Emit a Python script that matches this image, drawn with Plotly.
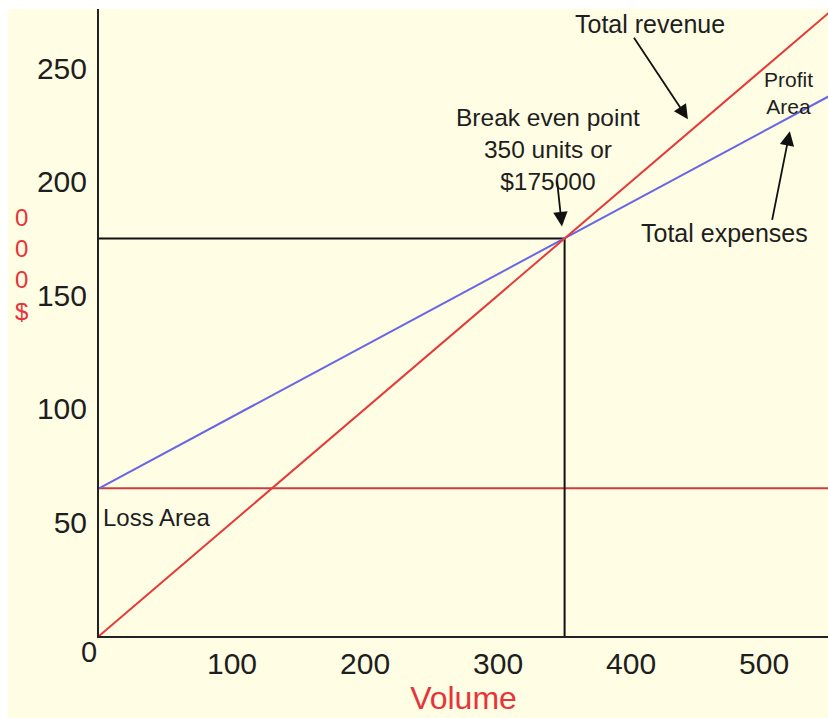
import plotly.graph_objects as go

# Break-even chart data (volume in units, money in $000)
volume_pts = [0, 350, 550]
revenue_pts = [0, 175, 275]
expense_pts = [65, 175, 238]
fixed_volume = [0, 550]
fixed_cost = [65, 65]
break_even_volume = 350
break_even_value = 175

x_ticks = [100, 200, 300, 400, 500]
y_ticks = [50, 100, 150, 200, 250]

CREAM = "#FFFDE3"
FONT = "Liberation Sans, Arial, sans-serif"
INK = "#1e1e1e"

fig = go.Figure()

# Fixed costs
fig.add_trace(go.Scatter(x=fixed_volume, y=fixed_cost, mode="lines",
                         line=dict(color="#C8403F", width=2), hoverinfo="skip"))
# Break-even guide lines
fig.add_trace(go.Scatter(x=[0, break_even_volume, break_even_volume],
                         y=[break_even_value, break_even_value, 0], mode="lines",
                         line=dict(color="#111111", width=2), hoverinfo="skip"))
# Total expenses
fig.add_trace(go.Scatter(x=volume_pts, y=expense_pts, mode="lines",
                         line=dict(color="#6767E6", width=2), hoverinfo="skip"))
# Total revenue
fig.add_trace(go.Scatter(x=volume_pts, y=revenue_pts, mode="lines",
                         line=dict(color="#E43A3A", width=2), hoverinfo="skip"))

text_font = dict(family=FONT, size=25, color=INK)
annotations = [
    dict(x=414, y=269.5, text="Total revenue", showarrow=False, font=text_font),
    dict(x=337.5, y=214, text="Break even point<br>350 units or<br>$175000",
         showarrow=False, font=dict(family=FONT, size=24.5, color=INK), align="center"),
    dict(x=518, y=239, text="Profit<br>Area", showarrow=False,
         font=dict(family=FONT, size=21, color=INK), align="center"),
    dict(x=470.5, y=177.5, text="Total expenses", showarrow=False, font=text_font),
    dict(x=1.5, y=52, text="Loss Area", showarrow=False, xanchor="left",
         font=dict(family=FONT, size=24, color=INK)),
    # origin label
    dict(x=0, y=0, text="0", showarrow=False, xanchor="right", yanchor="top",
         xshift=0, yshift=2, font=dict(family=FONT, size=29, color=INK)),
    # stacked y title
    dict(xref="paper", yref="paper", x=-0.118, y=0.593, text="0<br>0<br>0<br>$",
         showarrow=False, align="center",
         font=dict(family=FONT, size=24, color="#E8333A")),
]
# arrows (tail -> head in data coordinates)
arrows = [
    ((401.4, 264.0), (442.7, 227.5)),
    ((344.2, 201.0), (348.0, 180.3)),
    ((505.8, 182.5), (519.3, 222.2)),
]
for (tx, ty), (hx, hy) in arrows:
    annotations.append(dict(x=hx, y=hy, ax=tx, ay=ty, axref="x", ayref="y",
                            text="", showarrow=True, arrowhead=2, arrowsize=1.6,
                            arrowwidth=1.8, arrowcolor="#111111"))

fig.update_layout(
    width=828, height=718,
    margin=dict(l=99, r=0, t=9, b=82),
    paper_bgcolor=CREAM, plot_bgcolor=CREAM,
    showlegend=False,
    annotations=annotations,
    font=dict(family=FONT),
    shapes=[
        dict(type="rect", xref="paper", yref="paper", x0=-0.2, x1=1.05,
             y0=1.0, y1=1.02, fillcolor="white", line=dict(width=0), layer="below"),
        dict(type="rect", xref="paper", yref="paper", x0=-0.2, x1=-0.125,
             y0=-0.2, y1=1.02, fillcolor="white", line=dict(width=0), layer="below"),
    ],
    xaxis=dict(range=[0, 548], showgrid=False, zeroline=False,
               showline=True, linecolor="#222222", linewidth=2,
               tickvals=x_ticks, ticks="", ticklabelstandoff=0,
               tickfont=dict(family=FONT, size=30, color=INK),
               title=dict(text="Volume", font=dict(family=FONT, size=32, color="#E8333A"),
                          standoff=4)),
    yaxis=dict(range=[0, 276], showgrid=False, zeroline=False,
               showline=True, linecolor="#222222", linewidth=2,
               tickvals=y_ticks, ticks="", ticklabelstandoff=4,
               tickfont=dict(family=FONT, size=30, color=INK)),
)

fig.write_html("out.html")
